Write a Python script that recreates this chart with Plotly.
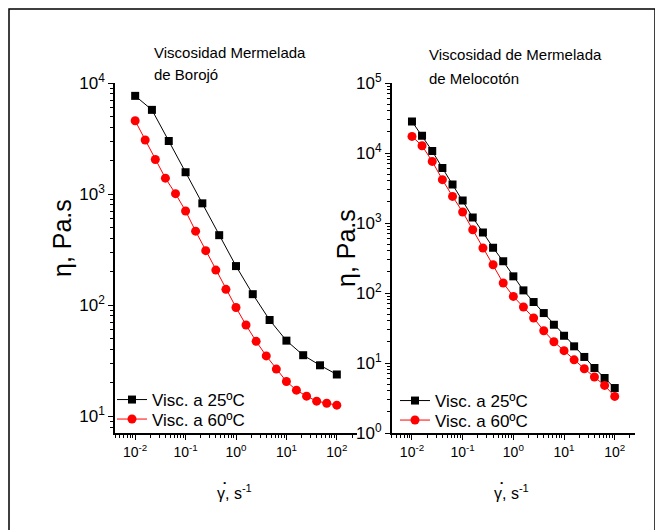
import plotly.graph_objects as go

FONT = "Arial, Liberation Sans, sans-serif"

# ---- data ----
shear_borojo_25 = [0.01, 0.0215, 0.0464, 0.1, 0.215, 0.464, 1, 2.15, 4.64, 10, 21.5, 46.4, 100]
visc_borojo_25 = [7660, 5730, 3006, 1574, 826, 427, 225, 125.7, 73.6, 48.0, 35.5, 28.8, 23.8]

shear_21 = [0.01, 0.0158, 0.0251, 0.0398, 0.0631, 0.1, 0.158, 0.251, 0.398, 0.631,
            1, 1.58, 2.51, 3.98, 6.31, 10, 15.8, 25.1, 39.8, 63.1, 100]
visc_borojo_60 = [4571, 3069, 2047, 1391, 1009, 705, 464, 310, 207, 139, 95.4, 66.3,
                  47.3, 35.0, 26.6, 20.6, 17.2, 15.2, 13.7, 13.1, 12.6]

visc_melocoton_25 = [28270, 17660, 10680, 6105, 3560, 2103, 1202, 734, 444, 283, 173,
                     109, 74.3, 51.7, 35.2, 24.5, 17.3, 12.2, 8.49, 6.11, 4.39]
visc_melocoton_60 = [17270, 12700, 7590, 4160, 2400, 1437, 802, 440, 253, 139, 89.4,
                     63.1, 44.0, 28.9, 20.1, 15.0, 11.1, 8.29, 6.31, 4.79, 3.33]

series_names = ["Visc. a 25ºC", "Visc. a 60ºC"]
title_left = ["Viscosidad Mermelada", "de Borojó"]
title_right = ["Viscosidad de Mermelada", "de Melocotón"]

x_tickvals = [0.01, 0.1, 1, 10, 100]
x_ticktext = ["10<sup>-2</sup>", "10<sup>-1</sup>", "10<sup>0</sup>", "10<sup>1</sup>", "10<sup>2</sup>"]
y1_tickvals = [10, 100, 1000, 10000]
y1_ticktext = ["10<sup>1</sup>", "10<sup>2</sup>", "10<sup>3</sup>", "10<sup>4</sup>"]
y2_tickvals = [1, 10, 100, 1000, 10000, 100000]
y2_ticktext = ["10<sup>0</sup>", "10<sup>1</sup>", "10<sup>2</sup>", "10<sup>3</sup>",
               "10<sup>4</sup>", "10<sup>5</sup>"]

fig = go.Figure()

fig.add_trace(go.Scatter(x=shear_borojo_25, y=visc_borojo_25, mode="lines+markers",
                         name=series_names[0], xaxis="x", yaxis="y", legend="legend",
                         line=dict(color="black", width=1),
                         marker=dict(symbol="square", size=8, color="black")))
fig.add_trace(go.Scatter(x=shear_21, y=visc_borojo_60, mode="lines+markers",
                         name=series_names[1], xaxis="x", yaxis="y", legend="legend2",
                         line=dict(color="red", width=1),
                         marker=dict(symbol="circle", size=9, color="red")))
fig.add_trace(go.Scatter(x=shear_21, y=visc_melocoton_25, mode="lines+markers",
                         name=series_names[0], xaxis="x2", yaxis="y2", legend="legend3",
                         line=dict(color="black", width=1),
                         marker=dict(symbol="square", size=8, color="black")))
fig.add_trace(go.Scatter(x=shear_21, y=visc_melocoton_60, mode="lines+markers",
                         name=series_names[1], xaxis="x2", yaxis="y2", legend="legend4",
                         line=dict(color="red", width=1),
                         marker=dict(symbol="circle", size=9, color="red")))

# page body adds an 8px offset; layout computed in screen pixels
OFF = 8
W, H = 663 - OFF, 530 - OFF
SL, ST, SR, SB = 115, 83, 635, 433  # plot area in screen pixels
L, T = SL - OFF, ST - OFF
R = W - (SR - OFF)
B = H - (SB - OFF)
pw = SR - SL
ph = SB - ST

def px(x):
    return (x - SL) / pw

def py(y):
    return (SB - y) / ph

common_x = dict(type="log", range=[-2.4, 2.4], showgrid=False, zeroline=False,
                showline=True, linecolor="black", linewidth=1.5,
                ticks="outside", ticklen=5, tickcolor="black", tickwidth=1,
                tickvals=x_tickvals, ticktext=x_ticktext,
                tickfont=dict(family=FONT, size=14, color="black"),
                minor=dict(ticks="outside", ticklen=3, tickcolor="black", tickwidth=1,
                           dtick="D1", showgrid=False))
common_y = dict(type="log", showgrid=False, zeroline=False,
                showline=True, linecolor="black", linewidth=1.5,
                ticks="outside", ticklen=5, tickcolor="black", tickwidth=1,
                tickfont=dict(family=FONT, size=17, color="black"),
                minor=dict(ticks="outside", ticklen=3, tickcolor="black", tickwidth=1,
                           dtick="D1", showgrid=False))

xa1 = dict(common_x); xa1.update(domain=[0, px(357)], anchor="y")
xa2 = dict(common_x); xa2.update(domain=[px(391.7), 1], anchor="y2")
ya1 = dict(common_y); ya1.update(range=[0.85, 4], anchor="x", tickvals=y1_tickvals, ticktext=y1_ticktext)
ya2 = dict(common_y); ya2.update(range=[0, 5], anchor="x2", tickvals=y2_tickvals, ticktext=y2_ticktext)

legend_common = dict(bgcolor="rgba(0,0,0,0)", borderwidth=0, xanchor="left", yanchor="top",
                     font=dict(family=FONT, size=17, color="black"), itemsizing="trace")

def txt(text, x, y, size, xanchor="left", angle=0):
    return dict(text=text, x=px(x), y=py(y), xref="paper", yref="paper",
                xanchor=xanchor, yanchor="middle", align="left", showarrow=False,
                textangle=angle, font=dict(family=FONT, size=size, color="black"))

annotations = [
    txt(title_left[0], 152, 52, 15),
    txt(title_left[1], 152, 75, 15),
    txt(title_right[0], 427, 55, 15),
    txt(title_right[1], 427, 78, 15),
    txt("η, Pa.s", 62, 238, 25, xanchor="center", angle=-90),
    txt("η, Pa.s", 346, 248, 25, xanchor="center", angle=-90),
    txt("γ, s<sup>-1</sup>", 234, 492, 16, xanchor="center"),
    txt("γ, s<sup>-1</sup>", 511, 492, 16, xanchor="center"),
    txt("˙", 225, 490, 22, xanchor="center"),
    txt("˙", 502, 490, 22, xanchor="center"),
]

fig.update_layout(
    width=W, height=H,
    margin=dict(l=L, r=R, t=T, b=B, autoexpand=False),
    paper_bgcolor="white", plot_bgcolor="white",
    xaxis=xa1, xaxis2=xa2, yaxis=ya1, yaxis2=ya2,
    legend=dict(legend_common, x=px(112), y=py(382)),
    legend2=dict(legend_common, x=px(112), y=py(401.5)),
    legend3=dict(legend_common, x=px(395), y=py(383)),
    legend4=dict(legend_common, x=px(395), y=py(402.5)),
    annotations=annotations,
    shapes=[dict(type="rect", xref="paper", yref="paper",
                 x0=px(9), x1=px(655), y0=py(560), y1=py(9),
                 line=dict(color="black", width=1.5), fillcolor="rgba(0,0,0,0)", layer="below")],
    showlegend=True,
)

fig.write_html("out.html")
